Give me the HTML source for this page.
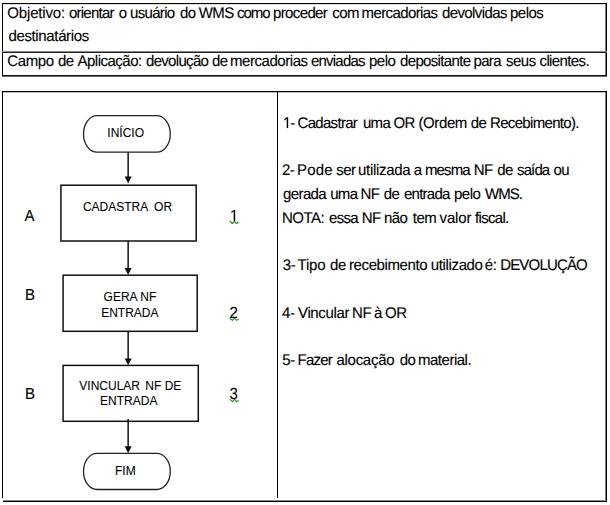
<!DOCTYPE html>
<html>
<head>
<meta charset="utf-8">
<style>
html,body{margin:0;padding:0;background:#fff;width:610px;height:505px;overflow:hidden;position:relative}
body{font-family:"Liberation Sans",sans-serif;color:#000}
.a{position:absolute}
.hl{position:absolute;background:#000}
.t{position:absolute;white-space:nowrap;font-size:15px;line-height:20px;transform-origin:0 14px;color:#000;text-rendering:geometricPrecision;-webkit-text-stroke:0.12px #000}
.f{position:absolute;white-space:nowrap;font-size:12px;line-height:16px;text-align:center;color:#000;-webkit-text-stroke:0.08px #000}
.box{position:absolute;border:1.3px solid #111;box-sizing:border-box}
.pill{position:absolute;border:1.3px solid #2a2a2a;box-sizing:border-box;border-radius:15px/18.5px}
.h{color:transparent;-webkit-text-stroke-color:transparent}
.g1{position:absolute;left:0;top:0;overflow:visible}
.g1 path{fill:#000;stroke:#000;stroke-width:20}
</style>
</head>
<body>
<!-- top table -->
<div class="hl" style="left:2px;top:3px;width:605px;height:1px"></div>
<div class="hl" style="left:3px;top:4px;width:602px;height:1px;background:#ddd"></div>
<div class="hl" style="left:2px;top:3px;width:1px;height:74px"></div>
<div class="hl" style="left:605px;top:4px;width:1px;height:71px;background:#777"></div>
<div class="hl" style="left:606px;top:3px;width:1px;height:74px"></div>
<div class="hl" style="left:2px;top:51px;width:605px;height:1px;background:#888"></div>
<div class="hl" style="left:2px;top:52px;width:605px;height:1px;background:#222"></div>
<div class="hl" style="left:2px;top:75px;width:605px;height:1px;background:#111"></div>
<div class="hl" style="left:2px;top:76px;width:605px;height:1px;background:#666"></div>

<div class="t" style="left:7.30px;top:3.5px;transform:scale(1,1.03);letter-spacing:-0.162px">Objetivo:</div>
<div class="t" style="left:69.00px;top:3.5px;transform:scale(1,1.03);letter-spacing:-0.771px">orientar</div>
<div class="t" style="left:118.85px;top:3.5px;transform:scale(1,1.03);letter-spacing:-0.620px">o</div>
<div class="t" style="left:130.00px;top:3.5px;transform:scale(1,1.03);letter-spacing:-0.667px">usuário</div>
<div class="t" style="left:180.06px;top:3.5px;transform:scale(1,1.03);letter-spacing:-0.620px">do</div>
<div class="t" style="left:198.72px;top:3.5px;transform:scale(1,1.03);letter-spacing:-0.620px">WMS</div>
<div class="t" style="left:237.00px;top:3.5px;transform:scale(1,1.03);letter-spacing:-1.000px">como</div>
<div class="t" style="left:273.00px;top:3.5px;transform:scale(1,1.03);letter-spacing:-0.629px">proceder</div>
<div class="t" style="left:332.37px;top:3.5px;transform:scale(1,1.03);letter-spacing:-0.620px">com</div>
<div class="t" style="left:361.50px;top:3.5px;transform:scale(1,1.03);letter-spacing:-0.600px">mercadorias</div>
<div class="t" style="left:442.00px;top:3.5px;transform:scale(1,1.03);letter-spacing:-0.611px">devolvidas</div>
<div class="t" style="left:510.00px;top:3.5px;transform:scale(1,1.03);letter-spacing:-0.500px">pelos</div>
<div class="t" style="left:8.40px;top:26.5px;transform:scale(1,1.03);letter-spacing:-0.350px">destinatários</div>
<div class="t" style="left:7.30px;top:51.5px;transform:scale(1,1.03);letter-spacing:-0.375px">Campo</div>
<div class="t" style="left:58.03px;top:51.5px;transform:scale(1,1.03);letter-spacing:-0.556px">de</div>
<div class="t" style="left:77.50px;top:51.5px;transform:scale(1,1.03);letter-spacing:-0.500px">Aplicação:</div>
<div class="t" style="left:146.00px;top:51.5px;transform:scale(1,1.03);letter-spacing:-0.688px">devolução</div>
<div class="t" style="left:211.98px;top:51.5px;transform:scale(1,1.03);letter-spacing:-0.556px">de</div>
<div class="t" style="left:230.00px;top:51.5px;transform:scale(1,1.03);letter-spacing:-0.450px">mercadorias</div>
<div class="t" style="left:311.00px;top:51.5px;transform:scale(1,1.03);letter-spacing:-0.786px">enviadas</div>
<div class="t" style="left:369.00px;top:51.5px;transform:scale(1,1.03);letter-spacing:-0.500px">pelo</div>
<div class="t" style="left:400.00px;top:51.5px;transform:scale(1,1.03);letter-spacing:-0.650px">depositante</div>
<div class="t" style="left:473.50px;top:51.5px;transform:scale(1,1.03);letter-spacing:-0.667px">para</div>
<div class="t" style="left:506.00px;top:51.5px;transform:scale(1,1.03);letter-spacing:-0.500px">seus</div>
<div class="t" style="left:539.50px;top:51.5px;transform:scale(1,1.03);letter-spacing:-0.612px">clientes.</div>

<!-- bottom table -->
<div class="hl" style="left:2px;top:91px;width:605px;height:1px"></div>
<div class="hl" style="left:3px;top:92px;width:602px;height:1px;background:#bbb"></div>
<div class="hl" style="left:2px;top:91px;width:1px;height:407px"></div>
<div class="hl" style="left:277px;top:91px;width:1px;height:407px"></div>
<div class="hl" style="left:605px;top:92px;width:1px;height:408px;background:#777"></div>
<div class="hl" style="left:606px;top:91px;width:1px;height:411px"></div>
<div class="hl" style="left:3px;top:500px;width:603px;height:1px;background:#888"></div>
<div class="hl" style="left:3px;top:501px;width:604px;height:1px"></div>

<!-- right column text -->
<div class="t" style="left:282.58px;top:113.7px;transform:scale(1,1.03);letter-spacing:-0.667px"><span class="h">1</span><svg class="g1" width="1" height="1"><path transform="translate(0,14) scale(0.0073242,-0.0073242)" d="M515 0V1237L197 1010V1180L530 1409H696V0Z"/></svg>-</div>
<div class="t" style="left:297.50px;top:113.7px;transform:scale(1,1.03);letter-spacing:-0.688px">Cadastrar</div>
<div class="t" style="left:362.92px;top:113.7px;transform:scale(1,1.03);letter-spacing:-0.667px">uma</div>
<div class="t" style="left:393.58px;top:113.7px;transform:scale(1,1.03);letter-spacing:-0.667px">OR</div>
<div class="t" style="left:418.50px;top:113.7px;transform:scale(1,1.03);letter-spacing:-0.400px">(Ordem</div>
<div class="t" style="left:470.83px;top:113.7px;transform:scale(1,1.03);letter-spacing:-0.667px">de</div>
<div class="t" style="left:490.00px;top:113.7px;transform:scale(1,1.03);letter-spacing:-0.667px">Recebimento).</div>
<div class="t" style="left:282.05px;top:160.8px;transform:scale(1,1.03);letter-spacing:-0.594px">2-</div>
<div class="t" style="left:297.00px;top:160.8px;transform:scale(1,1.03);letter-spacing:0.167px">Pode</div>
<div class="t" style="left:336.34px;top:160.8px;transform:scale(1,1.03);letter-spacing:-0.594px">ser</div>
<div class="t" style="left:358.00px;top:160.8px;transform:scale(1,1.03);letter-spacing:-0.312px">utilizada</div>
<div class="t" style="left:413.75px;top:160.8px;transform:scale(1,1.03);letter-spacing:-0.594px">a</div>
<div class="t" style="left:425.00px;top:160.8px;transform:scale(1,1.03);letter-spacing:-0.875px">mesma</div>
<div class="t" style="left:473.80px;top:160.8px;transform:scale(1,1.03);letter-spacing:-0.594px">NF</div>
<div class="t" style="left:497.30px;top:160.8px;transform:scale(1,1.03);letter-spacing:-0.594px">de</div>
<div class="t" style="left:517.00px;top:160.8px;transform:scale(1,1.03);letter-spacing:-0.875px">saída</div>
<div class="t" style="left:553.55px;top:160.8px;transform:scale(1,1.03);letter-spacing:-0.594px">ou</div>
<div class="t" style="left:283.00px;top:184.8px;transform:scale(1,1.03);letter-spacing:-0.600px">gerada</div>
<div class="t" style="left:330.18px;top:184.8px;transform:scale(1,1.03);letter-spacing:-0.675px">uma</div>
<div class="t" style="left:360.59px;top:184.8px;transform:scale(1,1.03);letter-spacing:-0.675px">NF</div>
<div class="t" style="left:383.84px;top:184.8px;transform:scale(1,1.03);letter-spacing:-0.675px">de</div>
<div class="t" style="left:404.00px;top:184.8px;transform:scale(1,1.03);letter-spacing:-0.750px">entrada</div>
<div class="t" style="left:454.00px;top:184.8px;transform:scale(1,1.03);letter-spacing:-0.500px">pelo</div>
<div class="t" style="left:485.00px;top:184.8px;transform:scale(1,1.03);letter-spacing:-1.000px">WMS.</div>
<div class="t" style="left:282.00px;top:208.8px;transform:scale(1,1.03);letter-spacing:-0.500px">NOTA:</div>
<div class="t" style="left:329.00px;top:208.8px;transform:scale(1,1.03);letter-spacing:-0.667px">essa</div>
<div class="t" style="left:361.79px;top:208.8px;transform:scale(1,1.03);letter-spacing:-0.584px">NF</div>
<div class="t" style="left:384.08px;top:208.8px;transform:scale(1,1.03);letter-spacing:-0.584px">não</div>
<div class="t" style="left:412.83px;top:208.8px;transform:scale(1,1.03);letter-spacing:-0.584px">tem</div>
<div class="t" style="left:439.50px;top:208.8px;transform:scale(1,1.03);letter-spacing:-0.125px">valor</div>
<div class="t" style="left:475.00px;top:208.8px;transform:scale(1,1.03);letter-spacing:-0.683px">fiscal.</div>
<div class="t" style="left:282.79px;top:256.2px;transform:scale(1,1.03);letter-spacing:-0.382px">3-</div>
<div class="t" style="left:297.50px;top:256.2px;transform:scale(1,1.03);letter-spacing:-0.167px">Tipo</div>
<div class="t" style="left:330.04px;top:256.2px;transform:scale(1,1.03);letter-spacing:-0.382px">de</div>
<div class="t" style="left:349.00px;top:256.2px;transform:scale(1,1.03);letter-spacing:-0.400px">recebimento</div>
<div class="t" style="left:430.80px;top:256.2px;transform:scale(1,1.03);letter-spacing:-0.363px">utilizado</div>
<div class="t" style="left:484.69px;top:256.2px;transform:scale(1,1.03);letter-spacing:-0.382px">é:</div>
<div class="t" style="left:500.20px;top:256.2px;transform:scale(1,1.03);letter-spacing:-0.825px">DEVOLUÇÃO</div>
<div class="t" style="left:282.08px;top:303.9px;transform:scale(1,1.03);letter-spacing:-0.357px">4-</div>
<div class="t" style="left:298.00px;top:303.9px;transform:scale(1,1.03);letter-spacing:-0.357px">Vincular</div>
<div class="t" style="left:351.93px;top:303.9px;transform:scale(1,1.03);letter-spacing:-0.357px">NF</div>
<div class="t" style="left:374.00px;top:303.9px;transform:scale(1,1.03);letter-spacing:-0.357px">à</div>
<div class="t" style="left:384.98px;top:303.9px;transform:scale(1,1.03);letter-spacing:-0.357px">OR</div>
<div class="t" style="left:282.34px;top:351.0px;transform:scale(1,1.03);letter-spacing:-0.488px">5-</div>
<div class="t" style="left:297.50px;top:351.0px;transform:scale(1,1.03);letter-spacing:-0.750px">Fazer</div>
<div class="t" style="left:336.50px;top:351.0px;transform:scale(1,1.03);letter-spacing:-0.286px">alocação</div>
<div class="t" style="left:399.74px;top:351.0px;transform:scale(1,1.03);letter-spacing:-0.488px">do</div>
<div class="t" style="left:418.00px;top:351.0px;transform:scale(1,1.03);letter-spacing:-0.488px">material.</div>

<!-- labels -->
<div class="t" style="left:24.5px;top:206.8px;transform:scale(1,1.07)">A</div>
<div class="t" style="left:25px;top:286.0px;transform:scale(1,1.07)">B</div>
<div class="t" style="left:25px;top:385.0px;transform:scale(1,1.07)">B</div>
<div class="t" style="left:229.5px;top:206.7px;transform:scale(1,1.07)"><span class="h">1</span><svg class="g1" width="1" height="1"><path transform="translate(0,14) scale(0.0073242,-0.0073242)" d="M515 0V1237L197 1010V1180L530 1409H696V0Z"/></svg></div>
<div class="t" style="left:229.5px;top:303.7px;transform:scale(1,1.07)">2</div>
<div class="t" style="left:229.5px;top:384.8px;transform:scale(1,1.07)">3</div>

<!-- flowchart -->
<div class="f" style="left:81.7px;top:125px;width:88px">INÍCIO</div>

<div class="f" style="left:59.5px;top:199px;width:136px">CADASTRA<span style="margin-left:2.5px"> </span>OR</div>

<div class="f" style="left:62.7px;top:289px;width:134.5px">GERA NF</div>
<div class="f" style="left:62.6px;top:305px;width:134.5px">ENTRADA</div>

<div class="f" style="left:62.6px;top:377.5px;width:135.5px">VINCULAR<span style="margin-left:2px"> </span>NF DE</div>
<div class="f" style="left:61px;top:393px;width:135.5px">ENTRADA</div>

<div class="f" style="left:81.6px;top:463px;width:87.5px">FIM</div>

<svg class="a" style="left:0;top:0" width="610" height="505">
<g stroke="#111" stroke-width="1.5" fill="none">
<rect x="60.9" y="185.2" width="135.3" height="55.8"/>
<rect x="63.1" y="275.2" width="134.1" height="56.1"/>
<rect x="63.1" y="365.4" width="135.2" height="55.9"/>
</g>
<g stroke="#222" stroke-width="1.3" fill="none">
<path d="M97.0 115.7 H156.8 A13.5 18.25 0 0 1 156.8 152.2 H97.0 A13.5 18.25 0 0 1 97.0 115.7 Z"/>
<path d="M97.0 453.3 H156.8 A13.5 18.1 0 0 1 156.8 489.5 H97.0 A13.5 18.1 0 0 1 97.0 453.3 Z"/>
</g>
<g stroke="#111" stroke-width="1.5" fill="none">
<line x1="128.15" y1="152.2" x2="128.15" y2="177.5"/>
<line x1="128.15" y1="241" x2="128.15" y2="269"/>
<line x1="128.15" y1="331.3" x2="128.15" y2="360"/>
<line x1="128.15" y1="419" x2="128.15" y2="447"/>
</g>
<g fill="#111">
<path d="M124.6 176.6 L131.7 176.6 L128.15 183.6 Z"/>
<path d="M124.6 268 L131.7 268 L128.15 274.9 Z"/>
<path d="M124.6 358.6 L131.7 358.6 L128.15 365.3 Z"/>
<path d="M124.6 446.3 L131.7 446.3 L128.15 453.2 Z"/>
</g>
<g stroke="#1f8f1f" stroke-width="1.1" fill="none" stroke-linejoin="round">
<polyline points="229.7,221.3 232.4,223.5 234.5,221.3 236.6,223.5 238.6,222.2"/>
<polyline points="229.7,318.2 232.4,320.4 234.5,318.2 236.6,320.4 238.6,319.1"/>
<polyline points="229.7,399.4 232.4,401.6 234.5,399.4 236.6,401.6 238.6,400.3"/>
</g>
</svg>
</body>
</html>
